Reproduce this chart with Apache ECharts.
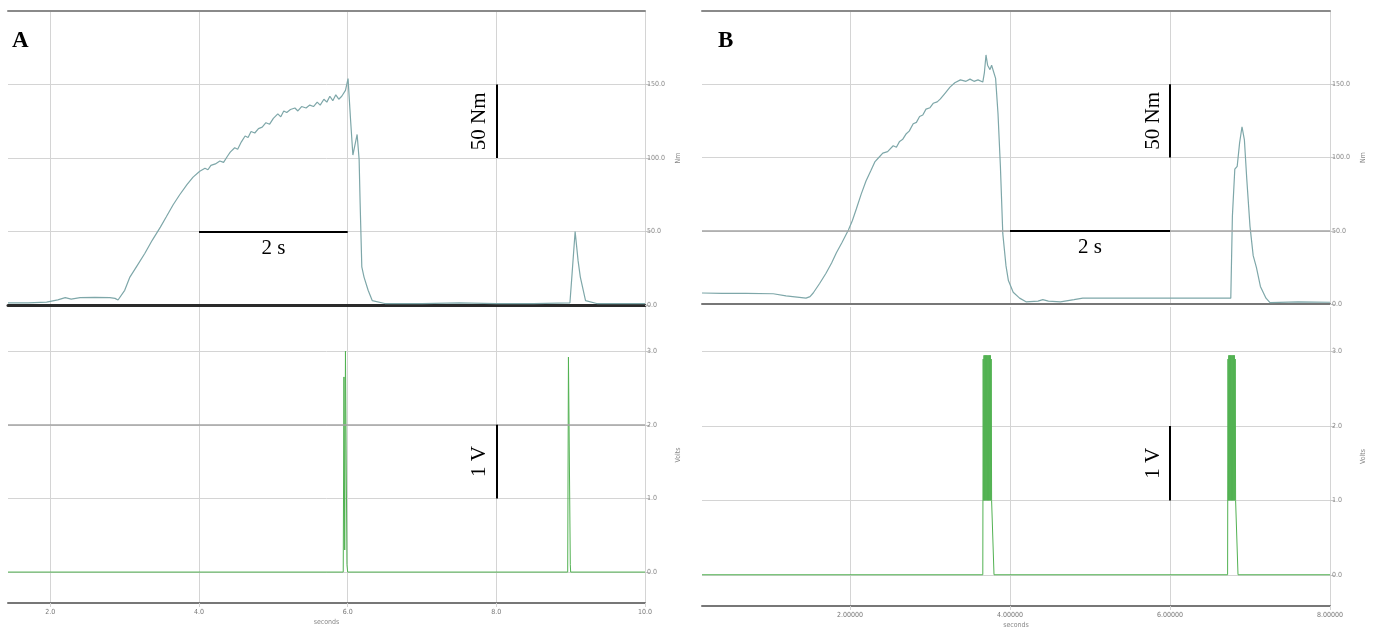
<!DOCTYPE html>
<html>
<head>
<meta charset="utf-8">
<title>Torque and trigger signal</title>
<script src="https://cdn.jsdelivr.net/npm/echarts@6/dist/echarts.min.js"></script>
<style>
  html, body { margin: 0; padding: 0; background: #fff; }
  #main { width: 1386px; height: 630px; }
</style>
</head>
<body>
<div id="main"></div>
<script>
// panel A, torque trace [seconds, Nm]
const torqueA = [
  [1.43, 1.5], [1.70, 1.5], [1.95, 2], [2.10, 3.5], [2.20, 5], [2.28, 4], [2.40, 5],
  [2.60, 5.2], [2.80, 5], [2.87, 4.5], [2.91, 3.4], [3.00, 10], [3.07, 19], [3.17, 27],
  [3.27, 35], [3.37, 44], [3.48, 53], [3.56, 60], [3.65, 68], [3.74, 75], [3.84, 82],
  [3.92, 87], [4.01, 91], [4.08, 93], [4.12, 92], [4.16, 95], [4.22, 96], [4.28, 98],
  [4.33, 97], [4.38, 101], [4.42, 104], [4.48, 107], [4.52, 106], [4.57, 111], [4.62, 115],
  [4.66, 114], [4.70, 118], [4.75, 117], [4.80, 120], [4.85, 121], [4.90, 124], [4.95, 123],
  [5.00, 127], [5.06, 130], [5.10, 128], [5.14, 132], [5.18, 131], [5.23, 133], [5.29, 134],
  [5.33, 132], [5.38, 135], [5.44, 134], [5.49, 136], [5.54, 135], [5.59, 138], [5.63, 136],
  [5.68, 140], [5.72, 138], [5.76, 142], [5.80, 139], [5.84, 143], [5.88, 140], [5.92, 142],
  [5.97, 146], [6.005, 154], [6.04, 125], [6.07, 102], [6.127, 116], [6.154, 99], [6.167, 70],
  [6.19, 26], [6.22, 19], [6.275, 10], [6.33, 3], [6.50, 1], [7.00, 1], [7.50, 1.5],
  [8.00, 1], [8.50, 1], [8.99, 1.5], [9.02, 22], [9.06, 50], [9.10, 30], [9.13, 19],
  [9.20, 3], [9.35, 1], [10.0, 1]
];
// panel A, trigger signal [seconds, Volts]
const voltsA = [
  [1.43, 0], [5.94, 0], [5.95, 2.65], [5.955, 2.65], [5.96, 0.3], [5.97, 3.0], [5.975, 3.0],
  [5.99, 0.1], [6.0, 0], [8.96, 0], [8.97, 2.92], [8.98, 2.92], [8.995, 0.1], [9.0, 0], [10.0, 0]
];
// panel B, torque trace [seconds, Nm]
const torqueB = [
  [0.15, 7.5], [0.40, 7.2], [0.70, 7.3], [1.04, 7.0], [1.20, 5.5], [1.45, 4], [1.50, 5],
  [1.54, 7.5], [1.62, 14], [1.70, 21], [1.77, 28], [1.83, 35], [1.90, 42], [1.98, 50.5],
  [2.03, 57], [2.08, 65], [2.14, 75], [2.20, 84], [2.26, 91], [2.31, 97], [2.36, 100],
  [2.41, 103], [2.47, 104], [2.54, 108], [2.58, 107], [2.62, 111], [2.66, 112.5], [2.70, 116],
  [2.74, 118], [2.79, 123], [2.83, 124], [2.87, 128], [2.91, 129], [2.95, 133], [3.00, 134],
  [3.04, 137], [3.09, 138], [3.13, 140], [3.19, 144], [3.25, 148], [3.31, 151], [3.38, 153],
  [3.45, 152], [3.50, 153.5], [3.55, 152], [3.60, 153], [3.66, 151.5], [3.68, 158], [3.70, 170],
  [3.72, 163], [3.75, 160], [3.77, 163], [3.79, 162], [3.82, 154], [3.85, 130], [3.88, 94],
  [3.91, 48], [3.95, 26], [3.98, 16], [4.04, 8], [4.12, 4], [4.20, 1.5], [4.35, 2],
  [4.41, 3], [4.48, 2], [4.63, 1.5], [4.80, 3], [4.91, 4], [5.50, 4], [6.00, 4],
  [6.50, 4], [6.76, 4], [6.78, 60], [6.81, 92], [6.84, 94], [6.87, 110], [6.90, 121],
  [6.93, 112], [6.96, 85], [7.00, 53], [7.04, 33], [7.08, 25], [7.13, 12], [7.20, 4],
  [7.25, 1], [7.60, 1.5], [8.00, 1.2]
];
// panel B, trigger signal [seconds, Volts]
const voltsB = [
  [0.15, 0], [3.660, 0], [3.665, 2.9], [3.670, 1.0], [3.675, 2.95], [3.680, 1.0], [3.685, 2.95],
  [3.690, 1.0], [3.695, 2.95], [3.700, 1.0], [3.705, 2.95], [3.710, 1.0], [3.715, 2.95],
  [3.720, 1.0], [3.725, 2.95], [3.730, 1.0], [3.735, 2.95], [3.740, 1.0], [3.745, 2.95],
  [3.750, 1.0], [3.755, 2.95], [3.760, 1.0], [3.765, 2.9], [3.770, 1.0], [3.800, 0],
  [6.720, 0], [6.725, 2.9], [6.730, 1.0], [6.735, 2.95], [6.740, 1.0], [6.745, 2.95],
  [6.750, 1.0], [6.755, 2.95], [6.760, 1.0], [6.765, 2.95], [6.770, 1.0], [6.775, 2.95],
  [6.780, 1.0], [6.785, 2.95], [6.790, 1.0], [6.795, 2.95], [6.800, 1.0], [6.805, 2.95],
  [6.810, 1.0], [6.815, 2.9], [6.820, 1.0], [6.825, 1.0], [6.850, 0], [8.0, 0]
];

const panelNames = ['A', 'B'];
const timeRangeA = [1.43, 10];
const timeRangeB = [0.15, 8];
const torqueRange = [0, 200];
const voltRange = [-0.42, 3.6];
// scale bars in data units: [x0, y0, x1, y1, text]
const timeBarA = [4, 50, 6, 50, '2 s'];
const torqueBarA = [8, 100, 8, 150, '50 Nm'];
const voltBarA = [8, 1, 8, 2, '1 V'];
const timeBarB = [4, 50, 6, 50, '2 s'];
const torqueBarB = [6, 100, 6, 150, '50 Nm'];
const voltBarB = [6, 1, 6, 2, '1 V'];
// gridlines that print darker in the original
const darkLineA = 2;   // Volts, panel A
const darkLineB = 50;  // Nm, panel B

const chart = echarts.init(document.getElementById('main'));

const tickFont = "'Liberation Sans Narrow', 'DejaVu Sans Condensed', sans-serif";
const serif = "'Liberation Serif', 'DejaVu Serif', serif";
const gridColor = '#d4d4d4';
const torqueColor = '#7ea7a9';
const voltColor = '#52b252';

function bar(b, pos) {
  return [
    { coord: [b[0], b[1]], label: { show: true, formatter: b[4], position: pos } },
    { coord: [b[2], b[3]] }
  ];
}

function darkLine(range, y) {
  return [
    { coord: [range[0], y], lineStyle: { color: '#a5a5a5', width: 1.5 }, label: { show: false } },
    { coord: [range[1], y] }
  ];
}

function markLines(bars, extra) {
  const data = [];
  if (extra) data.push(extra);
  bars.forEach(b => data.push(bar(b[0], b[1])));
  return {
    silent: true,
    symbol: ['none', 'none'],
    animation: false,
    lineStyle: { color: '#000', width: 2, type: 'solid' },
    label: { fontFamily: serif, fontSize: 21, color: '#000', distance: 6 },
    data: data
  };
}

function timeAxis(grid, range, opts) {
  return Object.assign({
    type: 'value', gridIndex: grid, min: range[0], max: range[1], splitNumber: 5,
    axisLine: { show: true, onZero: false, lineStyle: { color: '#777', width: 2 } },
    axisTick: { show: false },
    axisLabel: { show: false },
    splitLine: { show: true, showMinLine: false, lineStyle: { color: gridColor, width: 1 } }
  }, opts);
}

function frameAxis(grid, range) {
  return {
    type: 'value', gridIndex: grid, position: 'top', min: range[0], max: range[1],
    axisLine: { show: true, onZero: false, lineStyle: { color: '#8a8a8a', width: 2 } },
    axisTick: { show: false }, axisLabel: { show: false }, splitLine: { show: false }
  };
}

function valueAxis(grid, range, name, opts) {
  return Object.assign({
    type: 'value', gridIndex: grid, position: 'right', min: range[0], max: range[1],
    name: name, nameLocation: 'middle', nameGap: 30,
    nameTextStyle: { fontFamily: tickFont, fontSize: 7, color: '#888' },
    axisLine: { show: false },
    axisTick: { show: true, length: 5, lineStyle: { color: '#c8c8c8' } },
    axisLabel: {
      show: true, margin: 2, fontFamily: tickFont, fontSize: 7, color: '#888',
      showMinLabel: false, showMaxLabel: false,
      formatter: v => v.toFixed(1)
    },
    splitLine: { show: true, showMinLine: false, showMaxLine: false, lineStyle: { color: gridColor, width: 1 } }
  }, opts);
}

const torqueLabels = { show: true, margin: 2, fontFamily: tickFont, fontSize: 7, color: '#888',
  showMaxLabel: false, formatter: v => v.toFixed(1) };

const option = {
  animation: false,
  backgroundColor: '#fff',
  title: [
    { text: panelNames[0], left: 12, top: 30, padding: 0,
      textStyle: { fontFamily: serif, fontWeight: 'bold', fontSize: 23, color: '#000' } },
    { text: panelNames[1], left: 718, top: 30, padding: 0,
      textStyle: { fontFamily: serif, fontWeight: 'bold', fontSize: 23, color: '#000' } }
  ],
  grid: [
    { left: 8, top: 11, width: 637, height: 294 },
    { left: 8, top: 307, width: 637, height: 296 },
    { left: 702, top: 11, width: 628, height: 293 },
    { left: 702, top: 307, width: 628, height: 299 }
  ],
  xAxis: [
    timeAxis(0, timeRangeA, { axisLine: { show: true, onZero: false, lineStyle: { color: '#2a2a2a', width: 3 } } }),
    frameAxis(0, timeRangeA),
    timeAxis(1, timeRangeA, {
      axisTick: { show: true, length: 4, inside: false, lineStyle: { color: gridColor } },
      axisLabel: { show: true, margin: 6, fontFamily: tickFont, fontSize: 7, color: '#777',
        showMinLabel: false, formatter: v => v.toFixed(1) },
      name: 'seconds', nameLocation: 'middle', nameGap: 16,
      nameTextStyle: { fontFamily: tickFont, fontSize: 7, color: '#888' }
    }),
    timeAxis(2, timeRangeB, { axisLine: { show: true, onZero: false, lineStyle: { color: '#777', width: 2 } } }),
    frameAxis(2, timeRangeB),
    timeAxis(3, timeRangeB, {
      axisTick: { show: true, length: 4, inside: false, lineStyle: { color: gridColor } },
      axisLabel: { show: true, margin: 6, fontFamily: tickFont, fontSize: 7, color: '#777',
        showMinLabel: false, formatter: v => v.toFixed(5) },
      name: 'seconds', nameLocation: 'middle', nameGap: 16,
      nameTextStyle: { fontFamily: tickFont, fontSize: 7, color: '#888' }
    })
  ],
  yAxis: [
    valueAxis(0, torqueRange, 'Nm', { interval: 50, axisLabel: torqueLabels }),
    valueAxis(1, voltRange, 'Volts', { splitNumber: 4 }),
    valueAxis(2, torqueRange, 'Nm', { interval: 50, axisLabel: torqueLabels }),
    valueAxis(3, voltRange, 'Volts', { splitNumber: 4 })
  ],
  series: [
    {
      name: 'Torque A', type: 'line', xAxisIndex: 0, yAxisIndex: 0, data: torqueA,
      showSymbol: false, sampling: 'none', lineStyle: { color: torqueColor, width: 1.2 },
      markLine: markLines([[timeBarA, 'insideMiddleBottom'], [torqueBarA, 'insideMiddleTop']])
    },
    {
      name: 'Volts A', type: 'line', xAxisIndex: 2, yAxisIndex: 1, data: voltsA,
      showSymbol: false, sampling: 'none', lineStyle: { color: voltColor, width: 1 },
      markLine: markLines([[voltBarA, 'insideMiddleTop']], darkLine(timeRangeA, darkLineA))
    },
    {
      name: 'Torque B', type: 'line', xAxisIndex: 3, yAxisIndex: 2, data: torqueB,
      showSymbol: false, sampling: 'none', lineStyle: { color: torqueColor, width: 1.2 },
      markLine: markLines([[timeBarB, 'insideMiddleBottom'], [torqueBarB, 'insideMiddleTop']],
        darkLine(timeRangeB, darkLineB))
    },
    {
      name: 'Volts B', type: 'line', xAxisIndex: 5, yAxisIndex: 3, data: voltsB,
      showSymbol: false, sampling: 'none', lineStyle: { color: voltColor, width: 1 },
      markLine: markLines([[voltBarB, 'insideMiddleTop']])
    }
  ]
};

chart.setOption(option);
</script>
</body>
</html>
